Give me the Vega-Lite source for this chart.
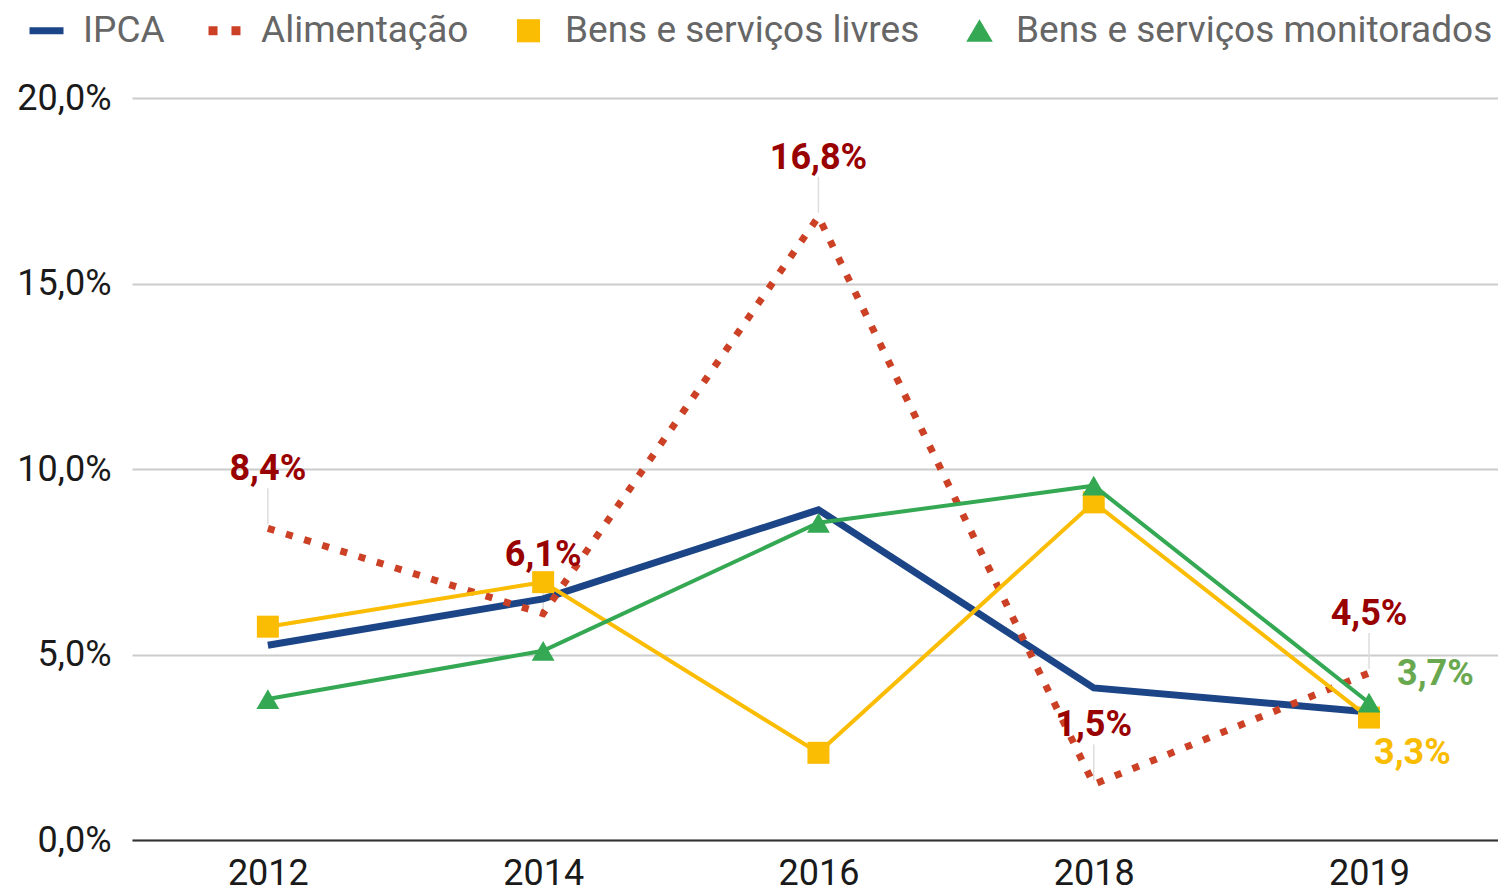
{
  "$schema": "https://vega.github.io/schema/vega-lite/v6.json",
  "autosize": "none",
  "width": 1366,
  "height": 742,
  "padding": {"left": 132, "top": 98, "right": 0, "bottom": 53},
  "background": "white",
  "config": {
    "view": {"stroke": null},
    "font": "Roboto",
    "axis": {"labelFont": "Roboto", "labelFontSize": 36, "labelColor": "#1a1a1a", "title": null}
  },
  "data": {
    "values": [
      {"ano": "2012", "serie": "IPCA", "valor": 5.25},
      {"ano": "2014", "serie": "IPCA", "valor": 6.5},
      {"ano": "2016", "serie": "IPCA", "valor": 8.9},
      {"ano": "2018", "serie": "IPCA", "valor": 4.1},
      {"ano": "2019", "serie": "IPCA", "valor": 3.45},
      {"ano": "2012", "serie": "Alimentação", "valor": 8.4, "rotulo": "8,4%"},
      {"ano": "2014", "serie": "Alimentação", "valor": 6.1, "rotulo": "6,1%"},
      {"ano": "2016", "serie": "Alimentação", "valor": 16.8, "rotulo": "16,8%"},
      {"ano": "2018", "serie": "Alimentação", "valor": 1.5, "rotulo": "1,5%"},
      {"ano": "2019", "serie": "Alimentação", "valor": 4.5, "rotulo": "4,5%"},
      {"ano": "2012", "serie": "Bens e serviços livres", "valor": 5.75},
      {"ano": "2014", "serie": "Bens e serviços livres", "valor": 6.95},
      {"ano": "2016", "serie": "Bens e serviços livres", "valor": 2.35},
      {"ano": "2018", "serie": "Bens e serviços livres", "valor": 9.1},
      {"ano": "2019", "serie": "Bens e serviços livres", "valor": 3.3, "rotulo": "3,3%"},
      {"ano": "2012", "serie": "Bens e serviços monitorados", "valor": 3.8},
      {"ano": "2014", "serie": "Bens e serviços monitorados", "valor": 5.1},
      {"ano": "2016", "serie": "Bens e serviços monitorados", "valor": 8.55},
      {"ano": "2018", "serie": "Bens e serviços monitorados", "valor": 9.55},
      {"ano": "2019", "serie": "Bens e serviços monitorados", "valor": 3.7, "rotulo": "3,7%"}
    ]
  },
  "encoding": {
    "x": {
      "field": "ano", "type": "ordinal",
      "scale": {"type": "point", "padding": 0.481, "align": 0.513},
      "axis": {"labelAngle": 0, "ticks": false, "grid": false, "domain": true, "domainColor": "#333333", "domainWidth": 2, "labelPadding": 16}
    },
    "y": {
      "field": "valor", "type": "quantitative",
      "scale": {"domain": [0, 20], "nice": false},
      "axis": {"values": [0, 5, 10, 15, 20], "labelExpr": "replace(format(datum.value, '.1f'), '.', ',') + '%'", "ticks": false, "domain": false, "grid": true, "gridColor": "#cccccc", "gridWidth": 2, "labelPadding": 21}
    },
    "color": {
      "field": "serie", "type": "nominal",
      "scale": {
        "domain": ["IPCA", "Alimentação", "Bens e serviços livres", "Bens e serviços monitorados"],
        "range": ["#1c4587", "#cc4125", "#fbbc04", "#34a853"]
      },
      "legend": {
        "title": null,
        "orient": "none",
        "legendX": -104,
        "legendY": -86,
        "direction": "horizontal",
        "padding": 0,
        "symbolSize": 1156,
        "labelFont": "Roboto",
        "labelFontSize": 37,
        "labelColor": "#666666",
        "labelLimit": 0,
        "labelOffset": 18,
        "columnPadding": 41,
        "symbolStrokeWidth": 0,
        "encode": {
          "symbols": {
            "update": {
              "shape": {"signal": "datum.value === 'IPCA' ? 'M-1,-0.2H1V0.2H-1Z' : datum.value === 'Alimentação' ? 'M-0.94,-0.27H-0.41V0.27H-0.94Z M0.41,-0.27H0.94V0.27H0.41Z' : datum.value === 'Bens e serviços livres' ? 'M-0.68,-0.68H0.68V0.68H-0.68Z' : 'M0,-0.68L0.78,0.64H-0.78Z'"},
              "fill": {"scale": "color", "field": "value"},
              "stroke": {"value": "transparent"},
              "strokeWidth": {"value": 0},
              "opacity": {"value": 1},
              "fillOpacity": {"value": 1}
            }
          }
        }
      }
    }
  },
  "layer": [
    {
      "transform": [{"filter": "datum.serie === 'Alimentação'"}],
      "mark": {"type": "rule", "color": "#dddddd", "strokeWidth": 1.5, "yOffset": -4, "y2Offset": -40},
      "encoding": {"y2": {"field": "valor"}, "color": {"value": "#dddddd"}}
    },
    {
      "transform": [{"filter": "datum.serie === 'IPCA'"}],
      "mark": {"type": "line", "strokeWidth": 7, "strokeJoin": "miter"}
    },
    {
      "transform": [{"filter": "datum.serie === 'Alimentação'"}],
      "mark": {"type": "line", "strokeWidth": 7, "strokeDash": [7, 12], "strokeCap": "butt"}
    },
    {
      "transform": [{"filter": "datum.serie === 'Bens e serviços livres'"}],
      "mark": {"type": "line", "strokeWidth": 4}
    },
    {
      "transform": [{"filter": "datum.serie === 'Bens e serviços livres'"}],
      "mark": {"type": "point", "shape": "square", "filled": true, "opacity": 1, "size": 484}
    },
    {
      "transform": [{"filter": "datum.serie === 'Bens e serviços monitorados'"}],
      "mark": {"type": "line", "strokeWidth": 4}
    },
    {
      "transform": [{"filter": "datum.serie === 'Bens e serviços monitorados'"}],
      "mark": {"type": "point", "shape": "triangle-up", "filled": true, "opacity": 1, "size": 520}
    },
    {
      "transform": [{"filter": "datum.serie === 'Alimentação'"}],
      "mark": {"type": "text", "font": "Roboto", "fontWeight": "bold", "fontSize": 36, "baseline": "middle", "align": "center", "dy": -59},
      "encoding": {"text": {"field": "rotulo"}, "color": {"value": "#990000"}}
    },
    {
      "transform": [{"filter": "datum.serie === 'Bens e serviços monitorados' && datum.rotulo"}],
      "mark": {"type": "text", "font": "Roboto", "fontWeight": "bold", "fontSize": 36, "baseline": "middle", "align": "left", "dx": 28, "dy": -29},
      "encoding": {"text": {"field": "rotulo"}, "color": {"value": "#6aa84f"}}
    },
    {
      "transform": [{"filter": "datum.serie === 'Bens e serviços livres' && datum.rotulo"}],
      "mark": {"type": "text", "font": "Roboto", "fontWeight": "bold", "fontSize": 36, "baseline": "middle", "align": "left", "dx": 5, "dy": 35},
      "encoding": {"text": {"field": "rotulo"}, "color": {"value": "#f9bc00"}}
    }
  ]
}
